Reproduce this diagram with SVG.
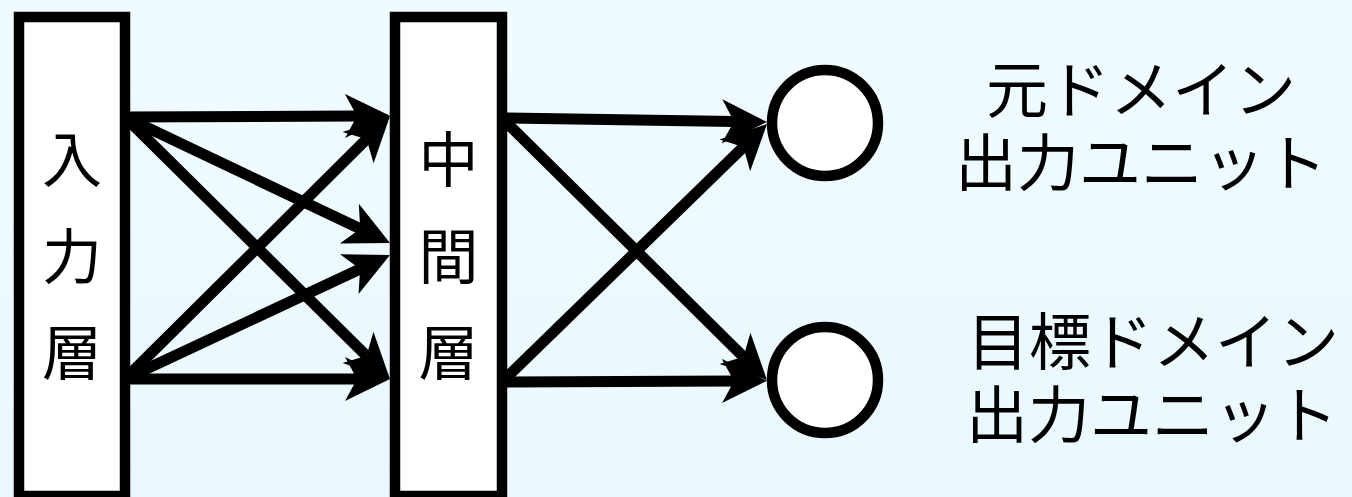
<svg xmlns="http://www.w3.org/2000/svg" width="1352" height="497" viewBox="0 0 1352 497">
<style>
.box{fill:#ffffff;stroke:#000000;stroke-width:10.5}
.unit{fill:#ffffff;stroke:#000000;stroke-width:10.5}
.conn{stroke:#000000;stroke-width:11;fill:none;marker-end:url(#ah)}
.lbl{font-family:"Liberation Sans","Noto Sans CJK JP","Noto Sans CJK SC",sans-serif;font-size:60px;fill:#000000;text-anchor:middle}
.out{font-family:"Liberation Sans","Noto Sans CJK JP","Noto Sans CJK SC",sans-serif;font-size:62px;fill:#000000;text-anchor:middle}
</style>
<defs>
<linearGradient id="bg" x1="0" y1="0" x2="0" y2="1">
<stop offset="0" stop-color="#f0fbff"/>
<stop offset="1" stop-color="#e9f9ff"/>
</linearGradient>
<marker id="ah" markerUnits="userSpaceOnUse" markerWidth="50" markerHeight="50" viewBox="0 -25 50 50" refX="12" refY="0" orient="auto">
<path d="M0,-22 L45,0 L0,22 L12,0 Z" fill="#000000"/>
</marker>
</defs>
<rect x="0" y="0" width="1352" height="497" fill="url(#bg)"/>
<g id="input-layer">
<rect class="box" x="19" y="17" width="106" height="479"/>
<text class="lbl" x="72" y="182">入</text>
<text class="lbl" x="72" y="279">力</text>
<text class="lbl" x="72" y="375">層</text>
</g>
<g id="hidden-layer">
<rect class="box" x="395" y="17" width="107" height="479"/>
<text class="lbl" x="448.5" y="182">中</text>
<text class="lbl" x="448.5" y="279">間</text>
<text class="lbl" x="448.5" y="375">層</text>
</g>
<g id="source-unit">
<circle class="unit" cx="825" cy="123" r="53"/>
<text class="out"><tspan x="1141" y="113">元ドメイン</tspan><tspan x="1141" y="186">出力ユニット</tspan></text>
</g>
<g id="target-unit">
<circle class="unit" cx="825" cy="380" r="53"/>
<text class="out"><tspan x="1153" y="365">目標ドメイン</tspan><tspan x="1152" y="438">出力ユニット</tspan></text>
</g>
<g id="connectors">
<line class="conn" x1="125" y1="117" x2="357" y2="116"/>
<line class="conn" x1="125" y1="117" x2="360.2" y2="228.8"/>
<line class="conn" x1="125" y1="117" x2="366.5" y2="355.8"/>
<line class="conn" x1="125" y1="379" x2="366.6" y2="139.2"/>
<line class="conn" x1="125" y1="379" x2="360.1" y2="269"/>
<line class="conn" x1="125" y1="379" x2="357" y2="379"/>
<line class="conn" x1="502" y1="118" x2="734" y2="121.5"/>
<line class="conn" x1="502" y1="118" x2="743.5" y2="356.8"/>
<line class="conn" x1="502" y1="382" x2="743.4" y2="147"/>
<line class="conn" x1="502" y1="382" x2="734" y2="381"/>
</g>
</svg>
